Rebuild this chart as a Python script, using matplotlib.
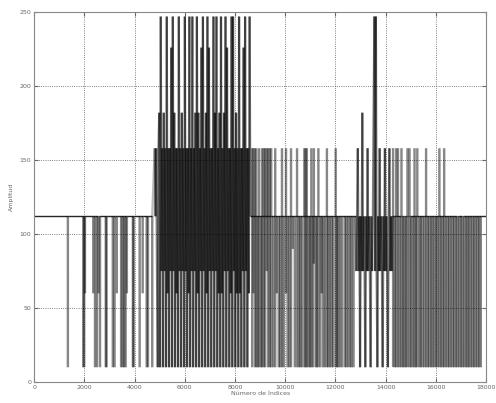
import numpy as np
import matplotlib.pyplot as plt
from matplotlib.collections import LineCollection

# signal rests at this level, everything else is excursions from it
base = 112

# isolated spikes: index, value reached going up, value reached going down
spike_idx = [1340, 1950, 1990, 2020, 2350, 2420, 2500, 2560, 2620, 2850, 2880,
             3130, 3200, 3290, 3460, 3520, 3580, 3640, 3690, 3930, 3960, 4200,
             4320, 4480, 4530, 4700,
             8680, 8730, 8790, 8850, 8900, 8960, 9030, 9080, 9140, 9200, 9260,
             9320, 9380, 9440, 9520, 9600, 9660, 9740, 9800, 9870, 9940, 10030,
             10090, 10160, 10230, 10300, 10380, 10470, 10540, 10600, 10660,
             10760, 10810, 10860, 10930, 10985, 11040, 11100, 11140, 11210,
             11260, 11320, 11400, 11450, 11510, 11580, 11660, 11710, 11780,
             11850, 11910, 12010, 12060, 12105, 12180, 12260, 12370, 12430,
             12500, 12580, 12640, 12720,
             14300, 14360, 14420, 14490, 14560, 14630, 14690, 14750, 14810,
             14870, 14950, 15010, 15080, 15150, 15200, 15260, 15345, 15400,
             15470, 15540, 15610, 15680, 15740, 15810, 15870, 15940, 16006,
             16070, 16140, 16204, 16270, 16330, 16400, 16470, 16530, 16600,
             16670, 16730, 16800, 16860, 16930, 17000, 17060, 17130, 17200,
             17260, 17320, 17390, 17460, 17520, 17590, 17660, 17720, 17790]
spike_hi = [112, 112, 112, 112, 112, 112, 112, 112, 112, 112, 112,
            112, 112, 112, 112, 112, 112, 112, 112, 112, 112, 112,
            112, 112, 112, 112,
            158, 158, 158, 158, 112, 158, 112, 158, 158, 158, 158,
            158, 158, 158, 112, 158, 112, 112, 112, 158, 112, 158,
            112, 112, 158, 112, 112, 158, 112, 112, 112,
            158, 158, 158, 112, 112, 158, 112, 158, 112,
            112, 158, 112, 112, 112, 112, 158, 112, 112,
            112, 112, 158, 112, 112, 112, 112, 112, 112,
            112, 112, 112, 112,
            158, 112, 158, 158, 112, 158, 112, 112, 112,
            158, 158, 112, 112, 158, 112, 158, 112, 112,
            112, 112, 158, 112, 112, 112, 112, 112, 112,
            112, 158, 112, 112, 158, 112, 112, 112, 112,
            112, 112, 112, 112, 112, 112, 112, 112, 112,
            112, 112, 112, 112, 112, 112, 112, 112, 112]
spike_lo = [10, 10, 10, 60, 60, 10, 10, 60, 10, 10, 10,
            10, 10, 60, 10, 10, 10, 10, 60, 10, 10, 10,
            60, 10, 10, 10,
            10, 60, 10, 10, 10, 10, 10, 10, 10, 10, 75,
            10, 10, 10, 10, 10, 60, 10, 10, 10, 10, 60,
            10, 10, 10, 90, 10, 10, 10, 10, 10,
            10, 10, 10, 10, 10, 10, 10, 80, 10,
            10, 10, 10, 60, 10, 10, 10, 10, 10,
            10, 10, 10, 10, 10, 10, 10, 10, 10,
            10, 10, 10, 10,
            10, 10, 10, 10, 10, 10, 10, 10, 10,
            10, 10, 10, 10, 10, 10, 10, 10, 10,
            10, 10, 10, 10, 10, 10, 10, 10, 10,
            10, 10, 10, 10, 10, 10, 10, 10, 10,
            10, 10, 10, 10, 10, 10, 10, 10, 10,
            10, 10, 10, 10, 10, 10, 10, 10, 10]

# dense bursts, consecutive samples
burst1_start = 4800
burst1_vals = [158, 112, 158, 75, 10, 158, 182, 10,
               247, 75, 158, 10, 182, 75, 158, 10,
               247, 60, 158, 10, 158, 75, 226, 10,
               247, 75, 182, 10, 158, 60, 158, 10,
               247, 75, 158, 10, 182, 75, 158, 10,
               247, 75, 158, 10, 158, 60, 247, 10,
               158, 75, 247, 10, 158, 75, 182, 10,
               247, 60, 182, 10, 158, 75, 226, 10,
               247, 75, 158, 10, 182, 60, 247, 10,
               226, 75, 158, 10, 158, 75, 247, 10,
               182, 75, 247, 10, 158, 60, 182, 10,
               247, 60, 158, 10, 182, 75, 247, 10,
               226, 75, 158, 10, 158, 60, 247, 10,
               247, 75, 158, 10, 182, 60, 158, 10,
               247, 60, 158, 10, 158, 75, 226, 10,
               247, 75, 158, 10, 158, 60, 247, 112]
burst2_start = 12800
burst2_vals = [112, 75, 112, 158, 75, 112, 10, 112,
               75, 182, 75, 112, 75, 10, 112, 75,
               158, 75, 112, 75, 10, 112, 75, 112,
               182, 247, 75, 247, 75, 10, 112, 75,
               158, 75, 112, 75, 10, 112, 75, 158,
               75, 112, 75, 10, 112, 158, 75, 112,
               75, 112, 10, 112]
step = 30
n_samples = 18000

# build the polyline, remembering which vertices belong to a burst
pts = [(0, base, 0)]
for i, hi, lo in zip(spike_idx, spike_hi, spike_lo):
    pts += [(i - 1, base, 0), (i, hi, 0), (i + 1, lo, 0), (i + 2, base, 0)]
for s, vals in [(burst1_start, burst1_vals), (burst2_start, burst2_vals)]:
    for k, v in enumerate(vals):
        pts.append((s + k * step, v, 1))
pts.append((n_samples - 1, base, 0))
pts.sort(key=lambda p: p[0])
x = np.array([p[0] for p in pts])
y = np.array([p[1] for p in pts])
in_burst = np.array([p[2] for p in pts])

fig = plt.figure(figsize=(4.96, 4.03), dpi=100)
ax = fig.add_axes([0.069, 0.052, 0.911, 0.918])

# wide translucent strokes so overlapping samples get darker (like the scan)
xy = np.column_stack([x, y])
segs = np.stack([xy[:-1], xy[1:]], axis=1)
flat = y[:-1] == y[1:]
burst_seg = (in_burst[:-1] == 1) & (in_burst[1:] == 1)
alphas = np.where(flat, 0.85, np.where(burst_seg, 0.5, 0.27))
widths = np.where(flat, 1.0, np.where(burst_seg, 1.6, 1.7))
cols = np.zeros((len(segs), 4))
cols[:, 3] = alphas
ax.add_collection(LineCollection(segs, colors=cols, linewidths=widths))

ax.set_xlim(0, 18000)
ax.set_ylim(0, 250)
ax.set_xticks(np.arange(0, 18001, 2000))
ax.set_yticks(np.arange(0, 251, 50))
ax.grid(True, linestyle=':', color='#555555', linewidth=0.6)
ax.tick_params(direction='in', labelsize=4.5, colors='#666666', length=3,
               top=True, right=True, pad=2)
for sp in ax.spines.values():
    sp.set_color('#888888')
ax.set_xlabel('Número de Índices', fontsize=4.5, color='#666666', labelpad=1)
ax.set_ylabel('Amplitud', fontsize=4.5, color='#666666', labelpad=4)

plt.savefig('out.png', dpi=100)
